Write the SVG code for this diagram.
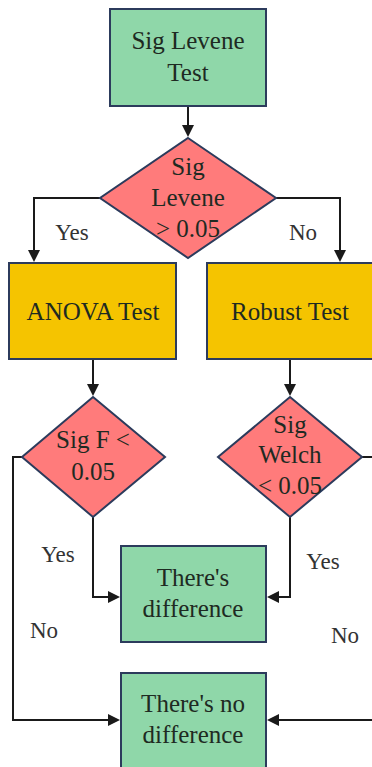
<svg xmlns="http://www.w3.org/2000/svg" width="372" height="767" viewBox="0 0 372 767">
<style>
.g{fill:#8fd7a9;stroke:#2c3b5c;stroke-width:2}
.y{fill:#f5c400;stroke:#2c3b5c;stroke-width:2}
.r{fill:#ff7b7b;stroke:#2c3b5c;stroke-width:2}
.t{font-size:25px;fill:#1e2a22;text-anchor:middle}
.l{font-size:23px;fill:#333;text-anchor:middle}
.c{fill:none;stroke:#1a1a1a;stroke-width:2}
.h{fill:#1a1a1a}
</style>
<rect width="372" height="767" fill="#fff"/>
<g id="connectors">
<path class="c" d="M188,106 V126"/>
<path class="h" d="M182,125 L194,125 L188,137 z"/>
<path class="c" d="M100,198 H34 V251"/>
<path class="h" d="M28,250 L40,250 L34,262 z"/>
<path class="c" d="M276,198 H340 V251"/>
<path class="h" d="M334,250 L346,250 L340,262 z"/>
<path class="c" d="M93,359 V385"/>
<path class="h" d="M87,384 L99,384 L93,396 z"/>
<path class="c" d="M290,359 V385"/>
<path class="h" d="M284,384 L296,384 L290,396 z"/>
<path class="c" d="M93,517 V597 H109"/>
<path class="h" d="M108,591 L120,597 L108,603 z"/>
<path class="c" d="M290,517 V597 H278"/>
<path class="h" d="M279,591 L267,597 L279,603 z"/>
<path class="c" d="M22,457 H13 V720 H109"/>
<path class="h" d="M108,714 L120,720 L108,726 z"/>
<path class="c" d="M362,457 H372 M372,720 H278"/>
<path class="h" d="M279,714 L267,720 L279,726 z"/>
</g>
<g id="start">
<rect class="g" x="110" y="9" width="156" height="97"/>
<text class="t" x="188" y="49" style="font-family:'Liberation Serif'">Sig Levene</text>
<text class="t" x="188" y="81" style="font-family:'Liberation Serif'">Test</text>
</g>
<g id="levene">
<polygon class="r" points="188,138 276,198 188,258 100,198"/>
<text class="t" x="188" y="175" style="font-family:'Liberation Serif'">Sig</text>
<text class="t" x="188" y="206" style="font-family:'Liberation Serif'">Levene</text>
<text class="t" x="188" y="237" style="font-family:'Liberation Serif'">&gt; 0.05</text>
</g>
<g id="anova">
<rect class="y" x="9" y="263" width="167" height="96"/>
<text class="t" x="93" y="320" style="font-family:'Liberation Serif'">ANOVA Test</text>
</g>
<g id="robust">
<rect class="y" x="207" y="263" width="175" height="96"/>
<text class="t" x="290" y="320" style="font-family:'Liberation Serif'">Robust Test</text>
</g>
<g id="sigf">
<polygon class="r" points="93,397 165,457 93,517 22,457"/>
<text class="t" x="93" y="448" style="font-family:'Liberation Serif'">Sig F &lt;</text>
<text class="t" x="93" y="480" style="font-family:'Liberation Serif'">0.05</text>
</g>
<g id="welch">
<polygon class="r" points="290,397 362,457 290,517 218,457"/>
<text class="t" x="290" y="433" style="font-family:'Liberation Serif'">Sig</text>
<text class="t" x="290" y="463" style="font-family:'Liberation Serif'">Welch</text>
<text class="t" x="290" y="494" style="font-family:'Liberation Serif'">&lt; 0.05</text>
</g>
<g id="diff">
<rect class="g" x="121" y="546" width="145" height="96"/>
<text class="t" x="193" y="586" style="font-family:'Liberation Serif'">There's</text>
<text class="t" x="193" y="617" style="font-family:'Liberation Serif'">difference</text>
</g>
<g id="nodiff">
<rect class="g" x="121" y="673" width="145" height="100"/>
<text class="t" x="193" y="712" style="font-family:'Liberation Serif'">There's no</text>
<text class="t" x="193" y="743" style="font-family:'Liberation Serif'">difference</text>
</g>
<g id="labels">
<text class="l" x="72" y="240" style="font-family:'Liberation Serif'">Yes</text>
<text class="l" x="303" y="240" style="font-family:'Liberation Serif'">No</text>
<text class="l" x="58" y="562" style="font-family:'Liberation Serif'">Yes</text>
<text class="l" x="323" y="569" style="font-family:'Liberation Serif'">Yes</text>
<text class="l" x="44" y="638" style="font-family:'Liberation Serif'">No</text>
<text class="l" x="345" y="643" style="font-family:'Liberation Serif'">No</text>
</g>
</svg>
